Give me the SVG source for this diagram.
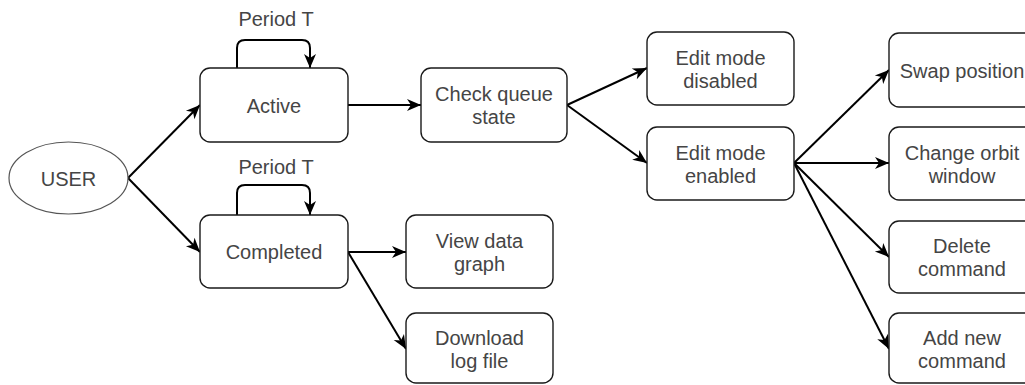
<svg xmlns="http://www.w3.org/2000/svg" width="1025" height="385" viewBox="0 0 1025 385">
  <defs>
    <marker id="arrow" markerUnits="userSpaceOnUse" markerWidth="16" markerHeight="14" refX="14" refY="6" orient="auto" overflow="visible">
      <path d="M0,0 L14,6 L0,12 L4,6 Z" fill="#000"/>
    </marker>
    <style>
      .box { fill: #fff; stroke: #1a1a1a; stroke-width: 1.4; }
      .ell { fill: #fff; stroke: #555; stroke-width: 1.2; }
      .lbl { font-family: "Liberation Sans", Arial, sans-serif; font-size: 20px; fill: #454545; text-anchor: middle; }
      .edge { fill: none; stroke: #000; stroke-width: 2; marker-end: url(#arrow); }
    </style>
  </defs>
  <rect width="1025" height="385" fill="#fff"/>

  <!-- connectors -->
  <g id="connectors">
    <line class="edge" x1="128" y1="178" x2="200" y2="105"/>
    <line class="edge" x1="128" y1="178" x2="200" y2="252"/>
    <path class="edge" d="M237,68 V48 Q237,40 245,40 H302 Q310,40 310,48 V68"/>
    <path class="edge" d="M237,215 V193 Q237,185 245,185 H302 Q310,185 310,193 V215"/>
    <line class="edge" x1="348" y1="105" x2="421" y2="105"/>
    <line class="edge" x1="567" y1="105" x2="647" y2="68"/>
    <line class="edge" x1="567" y1="105" x2="647" y2="163"/>
    <line class="edge" x1="348" y1="252" x2="406" y2="252"/>
    <line class="edge" x1="348" y1="252" x2="406" y2="349"/>
    <line class="edge" x1="794" y1="163" x2="889" y2="70"/>
    <line class="edge" x1="794" y1="163" x2="889" y2="163"/>
    <line class="edge" x1="794" y1="163" x2="889" y2="257"/>
    <line class="edge" x1="794" y1="163" x2="889" y2="349"/>
  </g>

  <!-- loop labels -->
  <g id="loop-labels">
    <text class="lbl" x="276" y="26">Period T</text>
    <text class="lbl" x="276" y="174">Period T</text>
  </g>

  <g id="user">
    <ellipse class="ell" cx="68.5" cy="178" rx="59.5" ry="36"/>
    <text class="lbl" x="68.5" y="186">USER</text>
  </g>

  <g id="active">
    <rect class="box" x="200" y="68" width="148" height="74" rx="10"/>
    <text class="lbl" x="274" y="113">Active</text>
  </g>

  <g id="completed">
    <rect class="box" x="200" y="215" width="148" height="73" rx="10"/>
    <text class="lbl" x="274" y="259">Completed</text>
  </g>

  <g id="check-queue">
    <rect class="box" x="421" y="68" width="146" height="74" rx="10"/>
    <text class="lbl" x="494" y="101">Check queue</text>
    <text class="lbl" x="494" y="124">state</text>
  </g>

  <g id="edit-disabled">
    <rect class="box" x="647" y="32" width="147" height="73" rx="10"/>
    <text class="lbl" x="720.5" y="64.5">Edit mode</text>
    <text class="lbl" x="720.5" y="87.5">disabled</text>
  </g>

  <g id="edit-enabled">
    <rect class="box" x="647" y="127" width="147" height="73" rx="10"/>
    <text class="lbl" x="720.5" y="159.5">Edit mode</text>
    <text class="lbl" x="720.5" y="182.5">enabled</text>
  </g>

  <g id="view-graph">
    <rect class="box" x="406" y="215" width="147" height="73" rx="10"/>
    <text class="lbl" x="479.5" y="247.5">View data</text>
    <text class="lbl" x="479.5" y="270.5">graph</text>
  </g>

  <g id="download-log">
    <rect class="box" x="406" y="313" width="147" height="70" rx="10"/>
    <text class="lbl" x="479.5" y="345">Download</text>
    <text class="lbl" x="479.5" y="368">log file</text>
  </g>

  <g id="swap-position">
    <rect class="box" x="889" y="33" width="148" height="74" rx="10"/>
    <text class="lbl" x="962" y="78">Swap position</text>
  </g>

  <g id="change-orbit">
    <rect class="box" x="889" y="127" width="148" height="73" rx="10"/>
    <text class="lbl" x="962" y="159.5">Change orbit</text>
    <text class="lbl" x="962" y="182.5">window</text>
  </g>

  <g id="delete-command">
    <rect class="box" x="889" y="221" width="148" height="72" rx="10"/>
    <text class="lbl" x="962" y="253">Delete</text>
    <text class="lbl" x="962" y="276">command</text>
  </g>

  <g id="add-command">
    <rect class="box" x="889" y="313" width="148" height="70" rx="10"/>
    <text class="lbl" x="962" y="345">Add new</text>
    <text class="lbl" x="962" y="368">command</text>
  </g>
</svg>
